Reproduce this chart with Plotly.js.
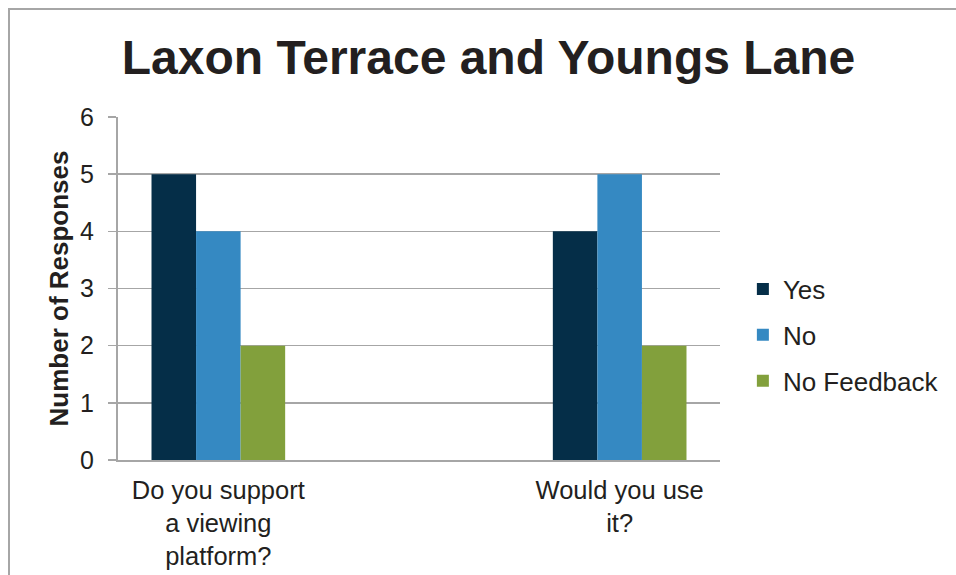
<!DOCTYPE html>
<html>
<head>
<meta charset="utf-8">
<script src="https://cdn.plot.ly/plotly-3.0.1.min.js"></script>
<style>
  html, body { margin: 0; padding: 0; background: #fff; }
  #wrap { position: relative; width: 956px; height: 575px; overflow: hidden; }
  #chart { width: 956px; height: 575px; }
  #frame { position: absolute; left: 8px; top: 8px; width: 1000px; height: 700px;
           border-left: 2px solid #a6a6a6; border-top: 2px solid #a6a6a6; pointer-events: none; }
</style>
</head>
<body>
<div id="wrap">
  <div id="chart"></div>
  <div id="frame"></div>
</div>
<script>
const categories = ["Do you support<br>a viewing<br>platform?", "Would you use<br>it?"];
const yesValues = [5, 4];
const noValues = [4, 5];
const noFeedbackValues = [2, 2];
const seriesNames = ["Yes", "No", "No Feedback"];
const seriesColors = ["#052E48", "#3589C2", "#82A03C"];
const yTickVals = [0, 1, 2, 3, 4, 5, 6];

const FONT = '"Liberation Sans", Arial, sans-serif';
const seriesValues = [yesValues, noValues, noFeedbackValues];

const traces = seriesValues.map((vals, i) => ({
  type: 'bar',
  x: categories,
  y: vals,
  name: seriesNames[i],
  legendgroup: 'g' + i,
  marker: { color: seriesColors[i], line: { width: 0 } },
  hoverinfo: 'none'
}));

const layout = {
  width: 956,
  height: 575,
  paper_bgcolor: '#ffffff',
  plot_bgcolor: '#ffffff',
  margin: { l: 118, r: 236, t: 117, b: 115, pad: 0 },
  barmode: 'group',
  bargap: 0.667,
  bargroupgap: 0,
  font: { family: FONT, color: '#231F20' },
  title: {
    text: '<b>Laxon Terrace and Youngs Lane</b>',
    font: { family: FONT, size: 48, color: '#231F20' },
    x: 0.511, xref: 'container', xanchor: 'center',
    y: 1 - 57 / 575, yref: 'container', yanchor: 'middle'
  },
  xaxis: {
    type: 'category',
    range: [-0.25, 1.25],
    showgrid: false,
    showline: true,
    linecolor: '#a6a6a6',
    linewidth: 2,
    ticks: '',
    ticklabelstandoff: 6,
    tickfont: { family: FONT, size: 25.5, color: '#231F20' },
    fixedrange: true,
    automargin: false
  },
  yaxis: {
    range: [0, 6],
    tickvals: yTickVals,
    ticktext: yTickVals.map(String),
    showgrid: true,
    gridcolor: '#a6a6a6',
    gridwidth: 1.5,
    zeroline: false,
    showline: true,
    linecolor: '#a6a6a6',
    linewidth: 2,
    ticks: 'outside',
    ticklen: 8,
    tickwidth: 1.5,
    tickcolor: '#a6a6a6',
    ticklabelstandoff: 9,
    tickfont: { family: FONT, size: 25, color: '#231F20' },
    title: {
      text: '<b>Number of Responses</b>',
      font: { family: FONT, size: 26, color: '#231F20' },
      standoff: 4
    },
    fixedrange: true,
    automargin: false
  },
  showlegend: true,
  legend: {
    x: 1.038, xanchor: 'left',
    y: 0.364, yanchor: 'middle',
    traceorder: 'grouped',
    tracegroupgap: 9,
    font: { family: FONT, size: 26, color: '#231F20' },
    bgcolor: 'rgba(0,0,0,0)',
    borderwidth: 0
  }
};

Plotly.newPlot('chart', traces, layout, { staticPlot: true, displayModeBar: false });
</script>
</body>
</html>
